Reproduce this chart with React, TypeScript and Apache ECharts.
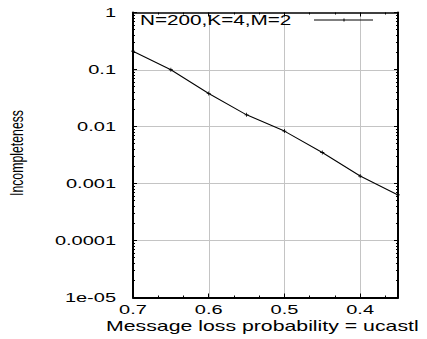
import React, { useEffect, useRef } from "react";
import * as echarts from "echarts";

// Incompleteness versus message loss probability (N=200, K=4, M=2)
const lossProb = [0.7, 0.65, 0.6, 0.55, 0.5, 0.45, 0.4, 0.35];
const incompleteness = [0.21, 0.099, 0.038, 0.016, 0.0083, 0.0035, 0.00135, 0.00063];

const xMajor = [0.4, 0.5, 0.6, 0.7];
const xMajorLabels = ["0.4", "0.5", "0.6", "0.7"];
const xMinor = [0.3667, 0.4333, 0.4667, 0.5333, 0.5667, 0.6333, 0.6667];
const yMajor = [1e-5, 1e-4, 1e-3, 1e-2, 1e-1, 1];
const yMajorLabels = ["1e-05", "0.0001", "0.001", "0.01", "0.1", "1"];

const seriesName = "N=200,K=4,M=2";
const xTitle = "Message loss probability = ucastl";
const yTitle = "Incompleteness";

const FONT = "'Liberation Sans', Arial, Helvetica, sans-serif";
const X_MIN = 0.35;
const X_MAX = 0.7;
const Y_MIN = 1e-5;
const Y_MAX = 1;

// gnuplot-style minor log ticks at 2..9 of every decade
const yMinor: number[] = [];
for (let e = -5; e < 0; e++) {
  for (let k = 2; k <= 9; k++) yMinor.push(Number((k * Math.pow(10, e)).toPrecision(3)));
}

const PLUS = "path://M2,0H3V2H5V3H3V5H2V3H0V2H2Z";

function frameLine(width: number) {
  return { show: true, onZero: false, lineStyle: { color: "#000", width } };
}

function xAxis(position: string, ticks: number[], len: number, line: number) {
  return {
    type: "value",
    min: X_MIN,
    max: X_MAX,
    inverse: true,
    position,
    axisLine: line > 0 ? frameLine(line) : { show: false },
    axisTick: { show: true, inside: true, length: len, customValues: ticks, lineStyle: { color: "#000", width: 1 } },
    axisLabel: { show: false },
    splitLine: { show: false },
  };
}

function yAxis(position: string, ticks: number[], len: number, line: number) {
  return {
    type: "log",
    logBase: 10,
    min: Y_MIN,
    max: Y_MAX,
    position,
    axisLine: line > 0 ? frameLine(line) : { show: false },
    axisTick: { show: true, inside: true, length: len, customValues: ticks, lineStyle: { color: "#000", width: 1 } },
    axisLabel: { show: false },
    splitLine: { show: false },
  };
}

export default function App() {
  const ref = useRef<HTMLDivElement>(null);

  useEffect(() => {
    if (!ref.current) return;
    const chart = echarts.init(ref.current, null, { renderer: "svg" });

    chart.setOption({
      animation: false,
      backgroundColor: "#fff",
      grid: { left: 133, right: 29, top: 12.5, bottom: 41.5, containLabel: false },
      xAxis: [
        xAxis("bottom", xMajor, 4, 2),
        xAxis("bottom", xMinor, 2, 0),
        xAxis("top", xMajor, 4, 1.5),
        xAxis("top", xMinor, 2, 0),
      ],
      yAxis: [
        yAxis("left", yMajor, 4, 2),
        yAxis("left", yMinor, 2, 0),
        yAxis("right", yMajor, 4, 2),
        yAxis("right", yMinor, 2, 0),
      ],
      series: [
        {
          name: seriesName,
          type: "line",
          xAxisIndex: 0,
          yAxisIndex: 0,
          data: lossProb.map((x, i) => [x, incompleteness[i]]),
          lineStyle: { color: "#000", width: 1.1 },
          itemStyle: { color: "#000" },
          symbol: PLUS,
          symbolSize: 4,
          showSymbol: true,
          z: 5,
        },
      ],
    });

    const px = (v: number) => chart.convertToPixel({ xAxisIndex: 0 }, v) as number;
    const py = (v: number) => chart.convertToPixel({ yAxisIndex: 0 }, v) as number;
    const left = px(X_MAX);
    const right = px(X_MIN);
    const top = py(Y_MAX);
    const bottom = py(Y_MIN);

    const graphics: any[] = [];

    // light grid at the inner major ticks, placed through the axis scales
    const gridStyle = { stroke: "#c4c4c4", lineWidth: 1 };
    xMajor
      .filter((v) => v > X_MIN && v < X_MAX)
      .forEach((v) => {
        const x = Math.round(px(v)) + 0.5;
        graphics.push({ type: "line", shape: { x1: x, y1: top, x2: x, y2: bottom }, style: gridStyle, silent: true });
      });
    yMajor
      .filter((v) => v > Y_MIN && v < Y_MAX)
      .forEach((v) => {
        const y = Math.round(py(v)) + 0.5;
        graphics.push({ type: "line", shape: { x1: left, y1: y, x2: right, y2: y }, style: gridStyle, silent: true });
      });

    yMajor.forEach((v, i) => {
      graphics.push({
        type: "text",
        x: left - 17,
        y: py(v),
        scaleX: 1.6,
        style: {
          text: yMajorLabels[i],
          fontFamily: FONT,
          fontSize: 12.5,
          fill: "#000",
          align: "right",
          verticalAlign: "middle",
        },
      });
    });

    xMajor.forEach((v, i) => {
      graphics.push({
        type: "text",
        x: px(v),
        y: bottom + 12,
        scaleX: 1.6,
        style: {
          text: xMajorLabels[i],
          fontFamily: FONT,
          fontSize: 12.5,
          fill: "#000",
          align: "center",
          verticalAlign: "middle",
        },
      });
    });

    // axis titles
    graphics.push({
      type: "text",
      x: 106,
      y: bottom + 29,
      scaleX: 1.52,
      style: { text: xTitle, fontFamily: FONT, fontSize: 14, fill: "#000", align: "left", verticalAlign: "middle" },
    });
    graphics.push({
      type: "text",
      x: 17,
      y: (top + bottom) / 2 - 2,
      rotation: Math.PI / 2,
      scaleY: 1.5,
      style: { text: yTitle, fontFamily: FONT, fontSize: 12.3, fill: "#000", align: "center", verticalAlign: "middle" },
    });

    // key: title followed by a line sample with its point
    const keyY = 20;
    graphics.push({
      type: "text",
      x: 140,
      y: keyY,
      scaleX: 1.48,
      style: { text: seriesName, fontFamily: FONT, fontSize: 14, fill: "#000", align: "left", verticalAlign: "middle" },
    });
    graphics.push({
      type: "line",
      shape: { x1: 314, y1: keyY, x2: 373, y2: keyY },
      style: { stroke: "#000", lineWidth: 1 },
    });
    graphics.push({
      type: "line",
      shape: { x1: 344, y1: keyY - 1.5, x2: 344, y2: keyY + 1.5 },
      style: { stroke: "#000", lineWidth: 1 },
    });

    chart.setOption({ graphic: graphics });

    return () => chart.dispose();
  }, []);

  return (
    <div
      ref={ref}
      style={{ position: "fixed", left: 0, top: 0, width: 427, height: 339 }}
    />
  );
}
